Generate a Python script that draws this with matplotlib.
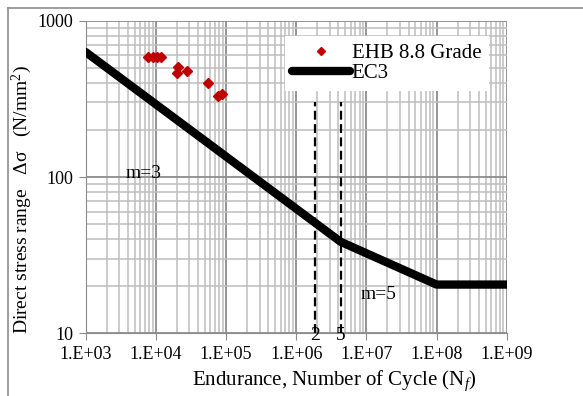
import matplotlib
matplotlib.use("Agg")
import matplotlib.pyplot as plt
from matplotlib.lines import Line2D
from matplotlib.ticker import LogLocator, FixedLocator, FixedFormatter, NullFormatter

plt.rcParams['font.family'] = ['Liberation Serif', 'DejaVu Serif']
plt.rcParams['mathtext.fontset'] = 'custom'
plt.rcParams['mathtext.rm'] = 'Liberation Serif'
plt.rcParams['mathtext.it'] = 'Liberation Serif:italic'

# Data
ehb_N = [7.8e3, 9.2e3, 1.03e4, 1.17e4, 2.05e4, 2.0e4, 2.8e4, 5.5e4, 7.8e4, 8.85e4]
ehb_S = [590, 590, 590, 590, 508, 461, 479, 401, 330, 340]
ec3_N = [1e3, 4.3e6, 1e8, 1e9]
ec3_S = [630, 38.5, 20.5, 20.5]
vline_N = [1.85e6, 4.3e6]
vline_labels = ["2", "5"]
vline_top = 300
xticks = [1e3, 1e4, 1e5, 1e6, 1e7, 1e8, 1e9]
xtick_labels = ["1.E+03", "1.E+04", "1.E+05", "1.E+06", "1.E+07", "1.E+08", "1.E+09"]
yticks = [10, 100, 1000]
ytick_labels = ["10", "100", "1000"]

W, H = 583, 396
fig = plt.figure(figsize=(W/100, H/100), dpi=100)
ax = fig.add_axes([85.7/W, 1-333.3/H, (506.7-85.7)/W, (333.3-20.7)/H])

ax.set_xscale('log')
ax.set_yscale('log')
ax.set_xlim(1e3, 1e9)
ax.set_ylim(10, 1000)

ax.xaxis.set_major_locator(FixedLocator(xticks))
ax.xaxis.set_major_formatter(FixedFormatter(xtick_labels))
ax.yaxis.set_major_locator(FixedLocator(yticks))
ax.yaxis.set_major_formatter(FixedFormatter(ytick_labels))
ax.xaxis.set_minor_locator(LogLocator(base=10, subs=range(2, 10), numticks=20))
ax.yaxis.set_minor_locator(LogLocator(base=10, subs=range(2, 10), numticks=20))
ax.xaxis.set_minor_formatter(NullFormatter())
ax.yaxis.set_minor_formatter(NullFormatter())

ax.grid(which='major', color='#8c8c8c', lw=1.3)
ax.grid(which='minor', color='#bdbdbd', lw=1.1)
ax.set_axisbelow(True)
for s in ax.spines.values():
    s.set_visible(False)
ax.spines['left'].set_visible(True)
ax.spines['bottom'].set_visible(True)
ax.spines['left'].set_color('#8c8c8c')
ax.spines['bottom'].set_color('#8c8c8c')
ax.tick_params(which='major', length=5, color='#8c8c8c', labelsize=13, pad=4)
ax.tick_params(which='minor', length=0)

for xv in vline_N:
    ax.plot([xv, xv], [10, vline_top], color='black', lw=1.6, dashes=(4, 2), zorder=3)

ax.plot(ec3_N, ec3_S, color='black', lw=6, solid_capstyle='round', solid_joinstyle='round', zorder=4)
ax.plot(ehb_N, ehb_S, linestyle='none', marker='D', ms=5, color='#c00000', zorder=5)

ax.text(6.6e3, 106, "m=3", fontsize=14, ha='center', va='center')
ax.text(1.47e7, 17.6, "m=5", fontsize=14, ha='center', va='center')
for xv, lab in zip(vline_N, vline_labels):
    ax.text(xv, 9.75, lab, fontsize=14, ha='center', va='center')

fig.text(334/W, 1-381/H, r"Endurance, Number of Cycle (N$_{\it f}$)", fontsize=15,
         ha='center', va='center')
fig.text(22/W, 1-200/H, "Direct stress range   \u0394\u03c3   (N/mm$^2$)", fontsize=14,
         ha='center', va='center', rotation=90)

handles = [Line2D([], [], linestyle='none', marker='D', ms=4, color='#c00000'),
           Line2D([], [], color='black', lw=6, solid_capstyle='round')]
leg = ax.legend(handles, ["EHB 8.8 Grade", "EC3"], loc='upper left',
                bbox_to_anchor=((285-85.7)/421, (333.3-36)/312.6), fontsize=15, frameon=True,
                fancybox=False, edgecolor='none', facecolor='white', framealpha=1,
                borderpad=0.35, labelspacing=0.05, handlelength=2.75, handletextpad=0.1,
                borderaxespad=0)
leg.set_zorder(6)

# Figure border
fig.add_artist(Line2D([8/W, 1], [1-8/H, 1-8/H], color='#8c8c8c', lw=1.2))
fig.add_artist(Line2D([8/W, 8/W], [0, 1-8/H], color='#8c8c8c', lw=1.2))

fig.savefig("out.png", dpi=100)
